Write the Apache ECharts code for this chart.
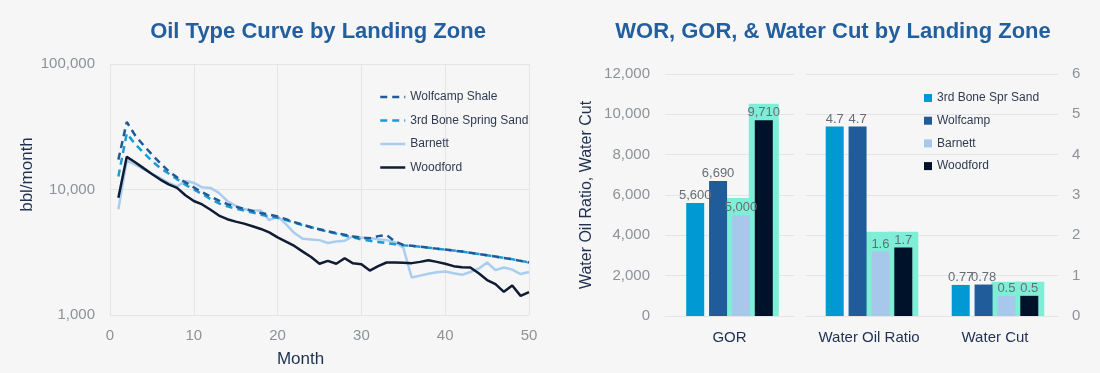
<!DOCTYPE html>
<html>
<head>
<meta charset="utf-8">
<script src="https://cdn.jsdelivr.net/npm/echarts@6/dist/echarts.min.js"></script>
<style>
html,body{margin:0;padding:0;background:#f6f6f6;}
#c{width:1100px;height:373px;}
</style>
</head>
<body>
<div id="c"></div>
<script>
// ---------- Left chart data: Oil type curve (bbl/month) by month ----------
const months = Array.from({length: 50}, (_, i) => i + 1);
const wolfcampShale = [17300,34500,27000,22500,19000,16200,14000,12500,11400,10400,
  9500,8800,8150,7650,7300,7000,6750,6500,6300,6100,
  5800,5500,5250,5000,4820,4650,4500,4360,4230,4120,
  4080,4250,4350,3850,3620,3560,3500,3440,3380,3320,
  3260,3200,3130,3060,2990,2920,2850,2780,2700,2620];
const boneSpring3rd = [12700,28000,23000,19700,16900,14800,13400,12100,10900,10000,
  9200,8400,7750,7350,7050,6800,6550,6300,6100,5950,
  5700,5450,5200,5000,4800,4600,4450,4300,4150,4000,
  3900,3820,3740,3670,3600,3550,3500,3440,3380,3320,
  3260,3200,3130,3060,2990,2920,2850,2780,2700,2620];
const barnett = [6950,17000,15800,14500,13300,12300,11300,10600,11700,11300,
  10400,10300,9400,8100,7400,7000,6800,6800,5700,6100,
  5300,4500,4050,4000,3950,3750,3850,3900,4250,4150,
  4100,4020,3950,3800,3440,1990,2060,2130,2190,2220,
  2150,2090,2200,2340,2620,2280,2390,2300,2120,2200];
const woodford = [8600,18200,16500,14800,13300,12000,11000,10300,9000,8100,
  7600,6900,6200,5800,5550,5350,5100,4850,4550,4150,
  3850,3550,3200,2900,2560,2700,2560,2830,2580,2540,
  2260,2450,2620,2620,2610,2590,2650,2730,2650,2560,
  2450,2400,2390,2150,1900,1760,1530,1720,1420,1520];

// ---------- Right chart data ----------
const gorCategories = ['GOR'];
const ratioCategories = ['Water Oil Ratio', 'Water Cut'];
const zoneNames = ['3rd Bone Spr Sand', 'Wolfcamp', 'Barnett', 'Woodford'];
const gorValues = [5600, 6690, 5000, 9710];           // per zone
const worValues = [4.7, 4.7, 1.6, 1.7];               // per zone
const waterCutValues = [0.77, 0.78, 0.5, 0.5];        // per zone
// highlight boxes (annotation) behind Barnett & Woodford: [category index, zone index, box top value]
const gorHighlights = [[0, 2, 5850], [0, 3, 10520]];
const ratioHighlights = [[0, 2, 2.09], [0, 3, 2.09], [1, 2, 0.85], [1, 3, 0.85]];

// ---------- styles ----------
const FONT = '"Liberation Sans", Arial, sans-serif';
const GRID_C = '#e3e5e9';
const TICK_C = '#8d9198';
const DARK_C = '#1f3050';
const TITLE_C = '#235f9f';
const zoneColors = ['#0099d3', '#1f5c99', '#a7c8ea', '#00112a'];
const lineColors = {wolf: '#1f5a96', bone: '#1a9bd7', barnett: '#a9cdef', wood: '#0f1c33'};
const HL_COLOR = '#80eed6';
const BAR_W = 18, BAR_GAP = 0.27, HL_PAD = 6;

function toXY(arr) { return months.map((m, i) => [m, arr[i]]); }
const fmtThousands = v => Number(v).toLocaleString('en-US');

function hlRender(params, api) {
  const cat = api.value(0), idx = api.value(1), top = api.value(2);
  const base = api.coord([cat, 0]);
  const t = api.coord([cat, top]);
  const n = zoneNames.length;
  const groupW = n * BAR_W + (n - 1) * BAR_W * BAR_GAP;
  const left = base[0] - groupW / 2 + idx * BAR_W * (1 + BAR_GAP) - HL_PAD;
  return {type: 'rect', shape: {x: left, y: t[1], width: BAR_W + 2 * HL_PAD, height: base[1] - t[1]},
    style: {fill: HL_COLOR}};
}

function barSeries(name, i, data, xi, yi, fmt) {
  return {
    type: 'bar', name: name, xAxisIndex: xi, yAxisIndex: yi, data: data,
    barWidth: BAR_W, barGap: (BAR_GAP * 100) + '%', z: 3,
    itemStyle: {color: zoneColors[i]},
    label: {show: true, position: 'top', distance: 1, color: '#686d75', fontSize: 13,
      fontFamily: FONT, formatter: p => fmt(p.value)}
  };
}

function lineSeries(name, arr, color, dashed, z) {
  return {type: 'line', name: name, xAxisIndex: 0, yAxisIndex: 0, data: toXY(arr),
    symbol: 'none', showSymbol: false, z: z,
    lineStyle: {color: color, width: 2.5, type: dashed ? [7, 5] : 'solid'},
    itemStyle: {color: color}};
}

const chart = echarts.init(document.getElementById('c'));
const option = {
  backgroundColor: '#f6f6f6',
  animation: false,
  textStyle: {fontFamily: FONT},
  title: [
    {text: 'Oil Type Curve by Landing Zone', left: 318, top: 21, textAlign: 'center', padding: 0,
      textStyle: {color: TITLE_C, fontSize: 22, fontWeight: 'bold', fontFamily: FONT}},
    {text: 'WOR, GOR, & Water Cut by Landing Zone', left: 833, top: 21, textAlign: 'center', padding: 0,
      textStyle: {color: TITLE_C, fontSize: 22, fontWeight: 'bold', fontFamily: FONT}}
  ],
  legend: [
    {orient: 'vertical', left: 374, top: 86, itemWidth: 25, itemHeight: 14, itemGap: 11.5,
      data: ['Wolfcamp Shale', '3rd Bone Spring Sand', 'Barnett', 'Woodford'],
      itemStyle: {opacity: 0},
      lineStyle: {width: 2.5},
      textStyle: {color: '#2f3b52', fontSize: 12, fontFamily: FONT}},
    {orient: 'vertical', left: 919, top: 86, itemWidth: 8, itemHeight: 8, itemGap: 8.7, icon: 'rect',
      data: zoneNames.map((n, i) => ({name: n, itemStyle: {color: zoneColors[i], opacity: 1}})),
      textStyle: {color: '#2f3b52', fontSize: 12, fontFamily: FONT, lineHeight: 14}}
  ],
  grid: [
    {left: 110, right: 571, top: 64, bottom: 57},
    {left: 665, right: 306, top: 74, bottom: 57},
    {left: 806, right: 42, top: 74, bottom: 57}
  ],
  xAxis: [
    {gridIndex: 0, type: 'value', min: 0, max: 50, interval: 10,
      name: 'Month', nameLocation: 'middle', nameGap: 36,
      nameTextStyle: {color: DARK_C, fontSize: 17, fontFamily: FONT, padding: [0, 38, 0, 0]},
      axisLine: {show: false}, axisTick: {show: false},
      axisLabel: {color: TICK_C, fontSize: 15, margin: 13},
      splitLine: {show: true, lineStyle: {color: GRID_C, width: 1}}},
    {gridIndex: 1, type: 'category', data: gorCategories,
      axisLine: {show: true, lineStyle: {color: GRID_C}}, axisTick: {show: false},
      axisLabel: {color: DARK_C, fontSize: 15, margin: 14, interval: 0}},
    {gridIndex: 2, type: 'category', data: ratioCategories,
      axisLine: {show: true, lineStyle: {color: GRID_C}}, axisTick: {show: false},
      axisLabel: {color: DARK_C, fontSize: 15, margin: 14, interval: 0}}
  ],
  yAxis: [
    {gridIndex: 0, type: 'log', logBase: 10, min: 1000, max: 100000,
      name: 'bbl/month', nameLocation: 'middle', nameGap: 74,
      nameTextStyle: {color: DARK_C, fontSize: 17, fontFamily: FONT, padding: [0, 0, 0, 30]},
      axisLine: {show: false}, axisTick: {show: false},
      axisLabel: {color: TICK_C, fontSize: 15, margin: 15, formatter: fmtThousands},
      splitLine: {show: true, lineStyle: {color: GRID_C, width: 1}}},
    {gridIndex: 1, type: 'value', min: 0, max: 12000, interval: 2000,
      name: 'Water Oil Ratio, Water Cut', nameLocation: 'middle', nameGap: 70,
      nameTextStyle: {color: DARK_C, fontSize: 16, fontFamily: FONT},
      axisLine: {show: false}, axisTick: {show: false},
      axisLabel: {color: TICK_C, fontSize: 15, margin: 15, formatter: fmtThousands},
      splitLine: {show: true, lineStyle: {color: GRID_C, width: 1}}},
    {gridIndex: 2, type: 'value', position: 'right', min: 0, max: 6, interval: 1,
      axisLine: {show: false}, axisTick: {show: false},
      axisLabel: {color: TICK_C, fontSize: 15, margin: 14},
      splitLine: {show: true, lineStyle: {color: GRID_C, width: 1}}}
  ],
  series: [
    lineSeries('Barnett', barnett, lineColors.barnett, false, 3),
    lineSeries('Woodford', woodford, lineColors.wood, false, 3),
    lineSeries('3rd Bone Spring Sand', boneSpring3rd, lineColors.bone, true, 4),
    lineSeries('Wolfcamp Shale', wolfcampShale, lineColors.wolf, true, 5),
    {type: 'custom', name: 'hl1', xAxisIndex: 1, yAxisIndex: 1, data: gorHighlights, z: 1,
      encode: {x: 0, y: 2}, renderItem: hlRender, silent: true},
    {type: 'custom', name: 'hl2', xAxisIndex: 2, yAxisIndex: 2, data: ratioHighlights, z: 1,
      encode: {x: 0, y: 2}, renderItem: hlRender, silent: true},
    ...zoneNames.map((n, i) => barSeries(n, i, [gorValues[i]], 1, 1, fmtThousands)),
    ...zoneNames.map((n, i) => barSeries(n, i, [worValues[i], waterCutValues[i]], 2, 2, v => String(v)))
  ]
};
chart.setOption(option);
</script>
</body>
</html>
